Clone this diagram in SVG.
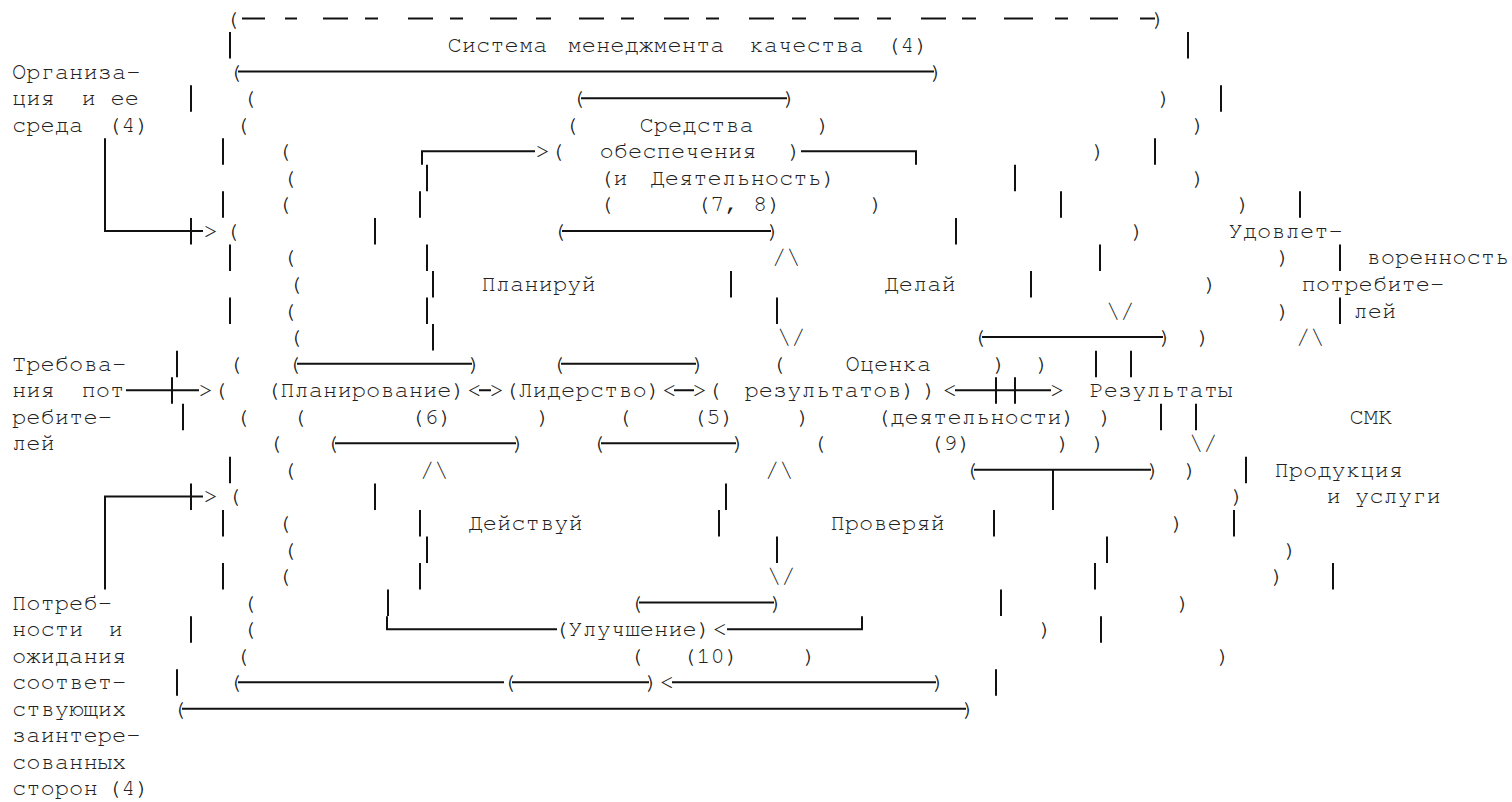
<svg xmlns="http://www.w3.org/2000/svg" width="1512" height="802" viewBox="0 0 1512 802">
<style>
text{font-family:"FreeMono","Nimbus Mono PS","Nimbus Mono L","Courier New","Liberation Mono",monospace;font-size:23.8px;fill:#222}
.l{stroke:#111;stroke-width:2;fill:none}
</style>
<rect width="1512" height="802" fill="#fff"/>

<g id="env-border">
<text y="25.5"><tspan x="225">(</tspan><tspan x="1151.5">)</tspan></text>
<path class="l" d="M242,18.5H265M285,18.5H297M323,18.5H348M365,18.5H378M408,18.5H433M450,18.5H463M490,18.5H517M536,18.5H551M579,18.5H604M621,18.5H634M664,18.5H689M706,18.5H719M749,18.5H774M792,18.5H806M834,18.5H859M877,18.5H891M921,18.5H946M962,18.5H976M1004,18.5H1033M1055,18.5H1068M1090,18.5H1118M1140,18.5H1155"/>
<path class="l" d="M230,32.05V58.55M191,85.15V111.65M223,138.25V164.75M223,191.35V217.85M230,244.45V270.95M230,297.55V324.05M177,350.65V377.15M183,403.75V430.25M230,456.85V483.35M223,509.95V536.45M223,563.05V589.55M191,616.15V642.65M177,669.25V695.75M1188,32.05V58.55M1221,85.15V111.65M1155,138.25V164.75M1300,191.35V217.85M1340,244.45V270.95M1340,297.55V324.05M1246,456.85V483.35M1234,509.95V536.45M1333,563.05V589.55M1101,616.15V642.65M996,669.25V695.75"/>
</g>

<g id="node-smk">
<text y="52.05"><tspan x="447.5">Система</tspan> <tspan x="567.5">менеджмента</tspan> <tspan x="749.5">качества</tspan> <tspan x="886">(4)</tspan></text>
<text y="78.6"><tspan x="228">(</tspan><tspan x="929.5">)</tspan></text>
<path class="l" d="M238,71.6H934"/>
</g>

<g id="node-org">
<text x="12" y="78.6">Организа-</text>
<text y="105.15"><tspan x="12">ция</tspan> <tspan x="81.5">и</tspan> <tspan x="110.5">ее</tspan></text>
<text y="131.7"><tspan x="12">среда</tspan> <tspan x="107">(4)</tspan></text>
</g>

<g id="node-treb">
<text x="12" y="370.65">Требова-</text>
<text y="397.2"><tspan x="12">ния</tspan> <tspan x="81.5">пот-</tspan></text>
<text x="12" y="423.75">ребите-</text>
<text x="12" y="450.3">лей</text>
</g>

<g id="node-potreb">
<text x="12" y="609.6">Потреб-</text>
<text y="636.15"><tspan x="12">ности</tspan> <tspan x="108.5">и</tspan></text>
<text x="12" y="662.7">ожидания</text>
<text x="12" y="689.25">соответ-</text>
<text x="12" y="715.8">ствующих</text>
<text x="12" y="742.35">заинтере-</text>
<text x="12" y="768.9">сованных</text>
<text y="795.45"><tspan x="12">сторон</tspan> <tspan x="107">(4)</tspan></text>
</g>

<g id="cycle">
<text y="105.15"><tspan x="242">(</tspan><tspan x="1157.5">)</tspan></text>
<text y="131.7"><tspan x="235">(</tspan><tspan x="1191.5">)</tspan></text>
<text y="158.25"><tspan x="277">(</tspan><tspan x="1091.5">)</tspan></text>
<text y="184.8"><tspan x="282">(</tspan><tspan x="1191.5">)</tspan></text>
<text y="211.35"><tspan x="277">(</tspan><tspan x="1236.5">)</tspan></text>
<text y="237.9"><tspan x="225">(</tspan><tspan x="1130.5">)</tspan></text>
<text y="264.45"><tspan x="282">(</tspan><tspan x="1276.5">)</tspan></text>
<text y="291"><tspan x="288">(</tspan><tspan x="1203.5">)</tspan></text>
<text y="317.55"><tspan x="282">(</tspan><tspan x="1276.5">)</tspan></text>
<text y="344.1"><tspan x="288">(</tspan><tspan x="1196.5">)</tspan></text>
<text y="370.65"><tspan x="228">(</tspan><tspan x="1035.5">)</tspan></text>
<text y="397.2"><tspan x="213">(</tspan><tspan x="922.5">)</tspan></text>
<text y="423.75"><tspan x="235">(</tspan><tspan x="1098.5">)</tspan></text>
<text y="450.3"><tspan x="268">(</tspan><tspan x="1091.5">)</tspan></text>
<text y="476.85"><tspan x="282">(</tspan><tspan x="1183.5">)</tspan></text>
<text y="503.4"><tspan x="227">(</tspan><tspan x="1230.5">)</tspan></text>
<text y="529.95"><tspan x="277">(</tspan><tspan x="1170.5">)</tspan></text>
<text y="556.5"><tspan x="282">(</tspan><tspan x="1283.5">)</tspan></text>
<text y="583.05"><tspan x="277">(</tspan><tspan x="1270.5">)</tspan></text>
<text y="609.6"><tspan x="242">(</tspan><tspan x="1176.5">)</tspan></text>
<text y="636.15"><tspan x="242">(</tspan><tspan x="1038.5">)</tspan></text>
<text y="662.7"><tspan x="235">(</tspan><tspan x="1216.5">)</tspan></text>
<text y="689.25"><tspan x="228">(</tspan><tspan x="659.5">&lt;</tspan><tspan x="931.5">)</tspan></text>
<path class="l" d="M238,682.25H504M672,682.25H936"/>
<text y="715.8"><tspan x="172">(</tspan><tspan x="961.5">)</tspan></text>
<path class="l" d="M182,708.8H966"/>
</g>

<g id="node-sredstva">
<text y="105.15"><tspan x="571">(</tspan><tspan x="782.5">)</tspan></text>
<path class="l" d="M581,98.15H787"/>
<text y="131.7"><tspan x="564">(</tspan><tspan x="639.5">Средства</tspan><tspan x="816.5">)</tspan></text>
<text y="158.25"><tspan x="550">(</tspan><tspan x="599.5">обеспечения</tspan><tspan x="787.5">)</tspan></text>
<text y="184.8"><tspan x="599">(и</tspan> <tspan x="650.5">Деятельность)</tspan></text>
<text y="211.35"><tspan x="599">(</tspan><tspan x="696">(7, 8)</tspan><tspan x="869.5">)</tspan></text>
<text y="237.9"><tspan x="552">(</tspan><tspan x="766.5">)</tspan></text>
<path class="l" d="M562,230.9H771"/>
</g>

<g id="node-plan">
<text y="370.65"><tspan x="287">(</tspan><tspan x="467.5">)</tspan></text>
<path class="l" d="M297,363.65H472"/>
<text x="266" y="397.2">(Планирование)</text>
<text y="423.75"><tspan x="292">(</tspan><tspan x="410">(6)</tspan><tspan x="536.5">)</tspan></text>
<text y="450.3"><tspan x="325">(</tspan><tspan x="511.5">)</tspan></text>
<path class="l" d="M335,443.3H516"/>
</g>

<g id="node-lider">
<text y="370.65"><tspan x="551">(</tspan><tspan x="691.5">)</tspan></text>
<path class="l" d="M561,363.65H696"/>
<text x="504" y="397.2">(Лидерство)</text>
<text y="423.75"><tspan x="617">(</tspan><tspan x="692">(5)</tspan><tspan x="796.5">)</tspan></text>
<text y="450.3"><tspan x="591">(</tspan><tspan x="731.5">)</tspan></text>
<path class="l" d="M601,443.3H736"/>
</g>

<g id="node-ocenka">
<text y="344.1"><tspan x="972">(</tspan><tspan x="1158.5">)</tspan></text>
<path class="l" d="M982,337.1H1163"/>
<text y="370.65"><tspan x="771">(</tspan><tspan x="845.5">Оценка</tspan><tspan x="992.5">)</tspan></text>
<text y="397.2"><tspan x="707">(</tspan><tspan x="744.5">результатов)</tspan></text>
<text x="876" y="423.75">(деятельности)</text>
<text y="450.3"><tspan x="812">(</tspan><tspan x="929">(9)</tspan><tspan x="1056.5">)</tspan></text>
<text y="476.85"><tspan x="964">(</tspan><tspan x="1146.5">)</tspan></text>
<path class="l" d="M974,469.85H1151"/>
</g>

<g id="node-ulu">
<text y="609.6"><tspan x="629">(</tspan><tspan x="769.5">)</tspan></text>
<path class="l" d="M639,602.6H774"/>
<text x="554" y="636.15">(Улучшение)</text>
<text y="662.7"><tspan x="629">(</tspan><tspan x="682">(10)</tspan><tspan x="802.5">)</tspan></text>
<text y="689.25"><tspan x="502">(</tspan><tspan x="644.5">)</tspan></text>
<path class="l" d="M512,682.25H649"/>
</g>

<g id="pdca-labels">
<text x="481.5" y="291">Планируй</text>
<text x="884.5" y="291">Делай</text>
<text x="468.5" y="529.95">Действуй</text>
<text x="830.5" y="529.95">Проверяй</text>
</g>

<g id="node-udov">
<text x="1228.5" y="237.9">Удовлет-</text>
<text x="1366.5" y="264.45">воренность</text>
<text x="1301.5" y="291">потребите-</text>
<text x="1353.5" y="317.55">лей</text>
</g>

<g id="node-rez">
<text x="1089.5" y="397.2">Результаты</text>
<text x="1349.5" y="423.75">СМК</text>
</g>

<g id="node-prod">
<text x="1274.5" y="476.85">Продукция</text>
<text x="1326.5" y="503.4">и услуги</text>
</g>

<g id="connectors">
<path class="l" d="M105,138.25V230.9H203M191,217.9V244.4M126,390.2H199M172,377.2V403.7M203,496.4H105V589.55M191,483.4V509.9"/>
<text x="203.5" y="237.9">&gt;</text>
<text x="198.5" y="397.2">&gt;</text>
<text x="203.5" y="503.4">&gt;</text>
<path class="l" d="M422,164.75V151.25H535M427,164.8V191.3M420,191.35V217.85M375,217.9V244.4M427,244.45V270.95M433,271V297.5M427,297.55V324.05M433,324.1V350.6"/>
<text x="535.5" y="158.25">&gt;</text>
<path class="l" d="M801,151.25H916V164.75M1015,164.8V191.3M1061,191.35V217.85M956,217.9V244.4M1100,244.45V270.95M1031,271V297.5"/>
<text x="1106" y="317.55">\/</text>
<text x="772" y="264.45">/\</text>
<path class="l" d="M731,271V297.5M777,297.55V324.05"/>
<text x="777" y="344.1">\/</text>
<text y="397.2"><tspan x="467">&lt;</tspan><tspan x="489.5">&gt;</tspan><tspan x="662">&lt;</tspan><tspan x="692.5">&gt;</tspan><tspan x="942.5">&lt;</tspan><tspan x="1050">&gt;</tspan></text>
<path class="l" d="M479,390.2H491M674,390.2H694M955,390.2H1051M996,377.2V403.7M1015,377.2V403.7"/>
<text x="1296" y="344.1">/\</text>
<path class="l" d="M1096,350.65V377.15M1131,350.65V377.15M1161,403.75V430.25M1196,403.75V430.25"/>
<text x="1189" y="450.3">\/</text>
<path class="l" d="M1053,469.85V509.9M994,509.95V536.45M1107,536.5V563M1095,563.05V589.55M1001,589.6V616.1M862,616.15V629.15H727"/>
<text x="712.5" y="636.15">&lt;</text>
<text x="420" y="476.85">/\</text>
<path class="l" d="M375,483.4V509.9M420,509.95V536.45M427,536.5V563M420,563.05V589.55M388,589.6V616.1M387,616.15V629.15H557"/>
<text x="765" y="476.85">/\</text>
<path class="l" d="M726,483.4V509.9M719,509.95V536.45M777,536.5V563"/>
<text x="767" y="583.05">\/</text>
</g>
</svg>
